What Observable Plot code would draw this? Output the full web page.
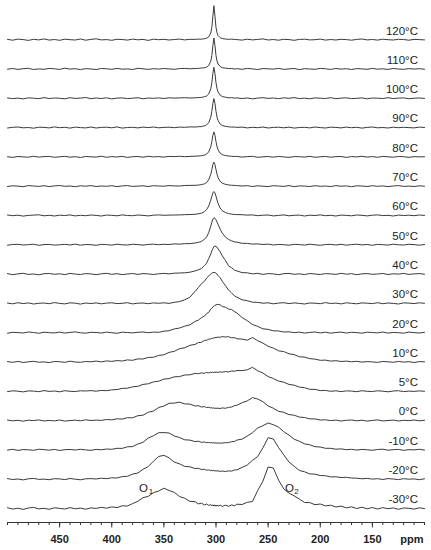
<!DOCTYPE html>
<html><head><meta charset="utf-8">
<script src="https://cdn.jsdelivr.net/npm/d3@7"></script>
<script src="https://cdn.jsdelivr.net/npm/@observablehq/plot@0.6"></script>
<style>body{margin:0;background:#fff}</style>
</head><body><div id="chart"></div>
<script>
// chemical shift grid (ppm)
const ppm = [
  500,495,490,485,480,475,470,465,460,455,450,445,440,435,430,425,420,415,410,405,400,395,390,385,380,375,370,365,360,355,350,345,340,335,330,325,320,
  317,314,311,309,307,305,304,303,302,301,300,299,298,296,294,291,288,285,282,
  280,275,270,265,260,255,250,245,240,235,230,225,220,215,210,205,200,195,190,185,180,175,170,165,160,155,150,145,140,135,130,125,120,115,110,105,100
];
const temperatures = ["120°C","110°C","100°C","90°C","80°C","70°C","60°C","50°C","40°C","30°C","20°C","10°C","5°C","0°C","-10°C","-20°C","-30°C"];

const s120 = [0.3,-0.5,0.6,0.1,-0.7,0.4,-0.2,0.8,-0.4,0.2,-0.6,0.5,0.0,-0.3,0.7,-0.5,0.3,0.9,-0.2,0.1,-0.6,0.4,0.2,-0.4,0.6,-0.1,0.3,-0.7,0.5,0.0,0.4,-0.3,0.2,0.6,-0.2,0.4,0.3,
  0.6,0.5,1.0,1.5,2.8,6.8,12.2,23.5,34,23.5,12.2,6.8,4.2,2.1,1.1,0.7,0.3,0.6,0.2,
  0.1,-0.4,0.5,-0.2,0.3,0.8,-0.3,0.2,-0.5,0.4,0.1,-0.6,0.3,0.5,-0.2,0.0,0.6,-0.4,0.2,-0.3,0.4,0.1,-0.5,0.3,0.7,-0.2,0.2,-0.4,0.5,0.0,-0.3,0.4,0.2,-0.5,0.3,0.1,-0.2];
const s110 = [-0.2,0.5,-0.4,0.3,0.7,-0.5,0.1,-0.3,0.6,0.2,-0.4,0.8,-0.1,0.3,-0.6,0.4,0.0,-0.5,0.5,0.2,-0.3,0.6,-0.2,0.1,-0.5,0.7,0.2,-0.4,0.3,-0.1,0.5,0.1,-0.3,0.4,0.6,0.2,0.5,
  0.6,1.0,1.2,1.9,3.4,7.9,13.4,23.4,31,23.4,13.4,7.9,5.0,2.5,1.3,0.9,0.4,0.5,0.0,
  0.3,-0.3,0.6,0.1,-0.5,0.4,0.2,-0.2,0.7,-0.4,0.1,0.5,-0.6,0.3,0.0,-0.3,0.6,0.2,-0.4,0.5,-0.1,0.3,-0.5,0.4,0.1,-0.3,0.6,-0.2,0.2,-0.4,0.5,0.0,-0.3,0.4,-0.1,0.3,-0.2];
const s100 = [0.4,-0.3,0.2,-0.6,0.5,0.1,-0.4,0.7,-0.2,0.3,0.0,-0.5,0.6,-0.1,0.2,0.8,-0.4,0.3,-0.2,0.5,-0.6,0.2,0.4,-0.3,0.1,0.6,-0.5,0.3,0.0,0.4,-0.2,0.5,0.2,0.4,0.6,0.3,0.5,
  0.7,0.9,1.6,2.3,4.3,9.5,15.5,24.8,31,24.8,15.5,9.5,6.2,3.2,1.8,1.1,0.5,0.6,0.2,
  0.4,-0.2,0.3,-0.5,0.2,0.6,-0.1,0.3,-0.4,0.5,0.0,0.7,-0.3,0.2,-0.5,0.4,0.1,-0.2,0.6,-0.4,0.2,0.5,-0.3,0.0,0.4,-0.5,0.3,0.1,-0.2,0.6,-0.3,0.2,0.4,-0.4,0.1,0.3,-0.1];
const s90 = [-0.4,0.3,0.6,-0.2,0.1,-0.6,0.4,0.2,-0.3,0.7,-0.1,0.3,-0.5,0.5,0.0,-0.3,0.6,-0.4,0.2,0.4,-0.2,0.7,-0.5,0.1,0.3,-0.3,0.5,0.0,0.6,-0.2,0.2,0.4,-0.1,0.5,0.3,0.7,0.6,
  0.9,1.0,1.8,2.7,4.9,10.4,16.2,24.2,29,24.2,16.2,10.4,7.0,3.6,2.1,1.3,0.8,0.5,0.5,
  0.2,0.5,-0.3,0.3,-0.1,0.6,-0.4,0.2,0.4,-0.2,0.5,-0.5,0.1,0.3,-0.3,0.6,0.0,-0.4,0.4,0.2,-0.3,0.5,-0.1,0.3,-0.5,0.2,0.6,-0.2,0.1,-0.4,0.4,-0.1,0.3,0.0,-0.3,0.5,0.1];
const s80 = [0.2,-0.5,0.4,0.0,-0.3,0.6,-0.2,0.3,0.5,-0.4,0.1,0.6,-0.3,0.2,-0.6,0.4,0.1,-0.2,0.7,-0.4,0.3,-0.1,0.5,-0.5,0.2,0.4,-0.3,0.6,0.0,0.3,-0.2,0.5,0.3,0.6,0.2,0.5,0.7,
  0.9,1.2,1.9,2.8,5.0,10.2,15.2,21.6,25,21.6,15.2,10.2,7.0,3.8,2.3,1.4,0.9,0.6,0.4,
  0.5,-0.2,0.3,0.6,-0.4,0.1,0.4,-0.3,0.5,0.0,-0.5,0.3,0.2,-0.2,0.6,-0.4,0.1,0.5,-0.3,0.2,0.4,-0.5,0.3,0.0,0.6,-0.2,0.3,-0.4,0.5,0.1,-0.3,0.4,0.2,-0.5,0.3,0.0,0.2];
const s70 = [-0.3,0.4,0.1,-0.5,0.6,0.2,-0.2,0.5,-0.4,0.3,0.7,-0.1,0.2,-0.5,0.4,0.0,0.6,-0.3,0.2,-0.1,0.5,-0.4,0.3,0.6,-0.2,0.1,0.4,-0.3,0.5,0.2,0.0,0.6,0.3,0.2,0.7,0.8,0.9,
  1.1,1.6,2.4,3.7,6.4,12,16.6,21.6,24,21.6,16.6,12,8.6,4.8,3.0,1.9,1.3,0.9,0.8,
  0.6,0.2,0.5,-0.3,0.4,0.0,-0.4,0.5,0.2,-0.2,0.6,-0.5,0.3,0.1,-0.3,0.5,-0.1,0.2,-0.4,0.6,0.0,0.3,-0.5,0.4,0.2,-0.3,0.5,-0.1,0.3,-0.4,0.2,0.6,-0.2,0.1,-0.3,0.4,0.0];
const s60 = [0.5,-0.2,0.3,-0.6,0.1,0.4,0.7,-0.3,0.2,-0.5,0.3,0.0,0.6,-0.4,0.2,-0.2,0.5,0.1,-0.5,0.4,0.2,-0.3,0.6,0.0,-0.2,0.5,0.1,-0.4,0.3,0.6,0.2,0.4,0.5,0.6,0.8,1.0,1.2,
  1.7,2.3,3.9,5.9,9.4,15.4,19.2,22.6,24,22.6,19.2,15.4,12,7.4,4.8,3.0,1.9,1.4,1.0,
  0.9,0.8,0.4,0.6,-0.2,0.3,0.5,-0.4,0.1,0.6,-0.3,0.2,0.4,-0.5,0.3,0.0,0.6,-0.2,0.2,-0.5,0.4,0.1,-0.3,0.5,0.2,-0.4,0.3,0.6,-0.1,0.2,-0.5,0.4,0.0,0.3,-0.2,0.5,0.1];
const s50 = [-0.4,0.3,0.5,-0.2,0.1,0.6,-0.5,0.2,0.4,-0.3,0.0,0.5,-0.2,0.7,-0.4,0.3,0.1,-0.5,0.4,0.2,-0.3,0.6,0.0,-0.2,0.5,0.2,-0.3,0.4,0.6,0.1,0.5,0.3,0.9,0.7,1.1,1.2,1.8,
  2.4,3.3,5.6,7.9,12.1,18.7,22.5,25.7,27,26.5,25,22.8,20.3,15.6,11.7,7.8,5.4,3.9,2.9,
  2.6,1.5,1.4,0.7,0.9,0.3,0.7,-0.2,0.4,0.1,-0.4,0.5,0.2,-0.3,0.6,0.0,-0.5,0.3,0.4,-0.2,0.5,-0.4,0.2,0.6,-0.1,0.3,-0.5,0.4,0.1,-0.3,0.6,0.0,-0.2,0.5,0.2,-0.4,0.3];
const s40 = [0.5,-0.6,0.2,0.8,-0.3,0.1,-0.7,0.4,0.6,-0.2,0.3,-0.5,0.7,0.0,-0.4,0.5,0.2,-0.6,0.3,0.8,-0.2,0.4,-0.5,0.1,0.6,-0.3,0.5,0.2,-0.4,0.3,0.7,0.2,0.9,1.1,1.3,1.9,3.2,
  4.3,5.4,8.6,11.0,15.5,20.1,23.3,25.4,27.6,28,27.6,26.9,25.3,22.3,18.2,13.8,8.3,6.3,3.8,
  3.2,1.5,1.3,0.2,0.8,-0.3,0.5,0.2,-0.6,0.4,0.7,-0.2,0.3,-0.5,0.6,0.1,-0.4,0.5,0.2,-0.3,0.8,-0.1,0.4,-0.6,0.3,0.5,-0.2,0.1,0.6,-0.4,0.3,0.0,0.7,-0.3,0.2,0.5,-0.1];
const s30 = [0.3,-0.4,0.7,-0.2,0.5,-0.6,0.1,0.4,-0.3,0.8,0.0,-0.5,0.6,0.2,-0.7,0.4,-0.1,0.5,-0.4,0.3,0.6,-0.2,0.1,0.7,-0.5,0.2,0.4,-0.3,0.5,0.1,0.6,0.0,1.1,1.8,3.6,6.2,12.1,
  15.8,19.6,22.2,25.3,27.3,29.6,30.1,31,30.8,30.9,30,29.4,27.9,25.7,22.1,17.9,13.4,10.5,7.3,
  6.2,3.6,2.7,1.2,1.0,0.2,0.6,-0.4,0.3,0.7,-0.2,0.5,0.0,-0.6,0.4,0.2,-0.3,0.8,-0.1,0.3,-0.5,0.6,0.1,-0.4,0.5,0.2,-0.2,0.7,-0.3,0.4,0.0,-0.6,0.5,0.3,-0.2,0.6,0.1];
const s20 = [-0.5,0.4,0.1,-0.3,0.7,0.2,-0.6,0.5,0.0,-0.2,0.6,-0.4,0.3,0.8,-0.1,-0.5,0.4,0.2,-0.3,0.6,0.0,-0.6,0.5,0.2,-0.2,0.4,0.7,0.0,0.6,0.4,1.5,2.0,3.8,4.7,6.5,7.9,11.3,
  12.5,15.0,16.7,19.2,20.3,23.6,24.3,25.8,26.3,27.5,27.6,28.4,28.2,27.9,26.2,25.5,23.7,23.1,20.9,
  19.8,15.2,12.0,8.2,6.3,3.9,3.3,1.9,1.7,0.7,0.9,0.0,0.6,-0.4,0.3,0.7,-0.2,0.5,-0.5,0.2,0.6,-0.3,0.4,0.1,-0.5,0.5,0.2,-0.2,0.7,-0.4,0.3,0.0,-0.5,0.6,0.1,-0.3,0.4];
const s10 = [0.4,-0.3,0.6,-0.5,0.2,0.7,-0.2,0.1,-0.6,0.5,0.3,-0.4,0.8,0.0,-0.3,0.5,0.2,0.9,0.1,1.1,0.6,1.4,1.0,2.1,1.7,3.1,3.0,4.6,4.7,6.6,7.2,9.6,10.7,13.3,14.2,16.7,17.6,
  19.4,19.7,21.6,21.7,22.9,22.9,23.8,23.6,24.3,24.0,24.8,24.4,25.0,24.7,25.4,25.0,25.3,24.2,24.3,
  23.2,22.9,21.8,24.5,21.3,18.9,15.7,13.9,11.2,10.4,8.2,7.4,5.2,4.9,3.3,2.9,1.7,1.9,0.9,1.3,0.5,0.9,0.2,0.7,-0.1,0.4,0.1,-0.4,0.5,0.2,-0.3,0.6,-0.1,0.3,-0.5,0.4,0.2];
const s5 = [-0.3,0.5,0.1,-0.6,0.4,0.2,-0.4,0.7,-0.1,0.3,-0.5,0.6,0.0,-0.2,0.5,0.3,0.7,0.1,0.9,0.6,1.5,1.7,2.9,3.1,4.5,5.0,6.9,7.5,9.4,10.1,12.2,12.7,14.5,14.7,16.3,16.5,17.9,
  17.6,18.4,18.0,18.9,18.4,19.1,18.7,19.2,18.8,19.3,18.9,19.3,18.9,19.5,19.1,19.7,19.4,20.3,20.1,
  20.8,20.7,21.5,24.0,20.5,18.3,14.7,12.8,10.2,9.1,6.9,6.1,4.2,3.6,2.0,1.9,0.7,0.9,0.0,0.5,-0.3,0.4,0.2,-0.4,0.6,0.0,-0.2,0.5,0.1,-0.5,0.3,0.6,-0.3,0.2,-0.1,0.4,0.0];
const s0 = [0.5,-0.2,0.3,-0.6,0.4,0.0,0.7,-0.4,0.2,-0.3,0.6,-0.5,0.1,0.4,-0.2,0.8,0.1,0.5,0.2,1.1,0.7,1.8,1.5,2.9,2.8,4.9,5.4,8.3,9.6,13.1,14.6,17.3,17.5,18.4,16.7,16.5,14.6,
  14.9,13.6,14.0,13.0,13.4,12.6,12.9,12.4,12.7,12.2,12.6,12.1,12.5,12.0,12.7,12.3,13.2,13.6,15.1,
  15.3,17.9,19.7,23.0,21.6,18.9,14.6,12.4,9.3,8.3,6.0,5.4,3.5,3.1,1.7,1.7,0.6,0.8,0.0,0.5,-0.4,0.3,0.6,-0.2,0.4,-0.5,0.2,0.7,-0.3,0.1,0.5,-0.4,0.3,0.0,0.6,-0.2,0.3];
const sm10 = [-0.2,0.6,-0.5,0.3,0.1,-0.4,0.7,0.2,-0.3,0.5,-0.6,0.2,0.4,-0.1,0.6,0.0,-0.4,0.5,0.1,0.9,0.6,1.6,1.5,3.1,3.3,5.9,7.6,11.9,14.1,17.2,17.3,16.9,13.9,12.4,10.1,9.8,8.3,
  8.7,7.6,7.9,7.2,7.5,7.0,7.4,6.9,7.2,6.8,7.1,6.6,7.0,6.7,6.9,7.2,7.3,8.2,8.5,
  9.8,10.8,13.9,17.2,21.9,24.2,26.9,25.2,22.8,18.2,14.8,10.7,8.6,6.0,5.1,3.2,2.9,1.6,1.6,0.7,1.0,0.2,0.6,-0.2,0.5,0.1,-0.4,0.4,0.7,-0.3,0.2,0.5,-0.5,0.3,0.0,0.6,-0.2];
const sm20 = [0.6,-0.3,0.2,-0.7,0.4,0.8,-0.2,0.1,-0.5,0.5,0.3,-0.4,0.7,0.0,-0.6,0.4,0.6,0.2,1.0,0.5,1.4,1.2,2.6,2.9,5.1,6.2,9.9,12.6,18.0,22.7,23.9,21.3,17.1,15.4,12.8,12.4,10.6,
  10.9,9.7,9.9,9.0,9.4,8.5,9.0,8.4,8.8,8.1,8.6,8.0,8.4,7.8,8.2,7.7,8.3,8.1,9.3,
  9.3,11.8,14.2,18.9,22.7,31.3,41.5,40.2,31.7,24.4,17.2,12.9,8.7,7.4,5.3,5.0,3.7,3.5,2.3,2.4,1.7,1.9,1.2,1.0,0.4,0.8,0.1,0.5,-0.3,0.6,0.2,-0.4,0.5,0.0,0.3,-0.5,0.4];
const sm30 = [0.8,-0.6,0.3,-0.9,0.5,1.1,-0.4,0.2,-0.8,0.7,0.1,-0.5,0.9,-0.3,0.4,-0.7,0.6,0.1,1.2,0.3,1.6,0.9,2.7,2.5,4.9,7.2,10.8,12.1,15.9,17.4,20.3,18.0,16.2,11.9,10.3,7.1,6.8,
  4.6,5.3,3.6,4.5,3.1,3.9,2.6,3.8,2.4,3.6,2.2,3.5,2.3,3.4,2.1,3.3,2.2,3.6,2.7,
  4.3,4.0,6.2,7.0,18.0,27.3,41.5,40.5,28.4,19.6,15.4,12.6,9.5,6.0,5.9,3.8,4.5,2.6,3.3,1.5,2.4,0.6,1.7,0.0,1.3,-0.3,1.0,-0.5,0.9,-0.2,0.6,-0.8,0.5,0.2,-0.6,0.7,-0.1];

const spectra = [s120,s110,s100,s90,s80,s70,s60,s50,s40,s30,s20,s10,s5,s0,sm10,sm20,sm30];

// axis ticks
const majorTicks = [450,400,350,300,250,200,150];
const minorTicks = [500,490,480,470,460,450,440,430,420,410,400,390,380,370,360,350,340,330,320,310,300,290,280,270,260,250,240,230,220,210,200,190,180,170,160,150,140,130,120,110,100];
const axisUnit = "ppm";

// peak annotations (on the -30°C trace)
const peakNames = ["O","O"];
const peakSubs = ["1","2"];
const peakPpm = [369.5, 229.5];
const peakSubPpm = [362.5, 222.8];

const SPACING = 29.3;
const n = spectra.length;
const offset = i => (n - 1 - i) * SPACING;

const rows = [];
spectra.forEach((vals, i) => {
  if (vals.length !== ppm.length) throw new Error("length mismatch " + temperatures[i] + " " + vals.length);
  vals.forEach((v, j) => rows.push({ppm: ppm[j], y: offset(i) + v, t: temperatures[i]}));
});
const labels = temperatures.map((t, i) => ({t, x: 100, y: offset(i)}));
const annO = peakNames.map((p, k) => ({text: p, x: peakPpm[k], y: 20.5}));
const annS = peakSubs.map((p, k) => ({text: p, x: peakSubPpm[k], y: 17}));

const chart = Plot.plot({
  width: 431, height: 550,
  marginTop: 0, marginBottom: 28, marginLeft: 7, marginRight: 7,
  x: {domain: [500, 100]},
  y: {domain: [-14, 508], axis: null},
  style: {fontFamily: "'Liberation Sans', Arial, Helvetica, sans-serif", fontSize: "11px", background: "#fff", color: "#222"},
  marks: [
    Plot.line(rows, {x: "ppm", y: "y", z: "t", stroke: "#3a3a3a", strokeWidth: 1}),
    Plot.text(labels, {x: "x", y: "y", text: "t", textAnchor: "end", dx: -6.5, dy: -8.8, fontSize: 11.5, fill: "#222"}),
    Plot.text(annO, {x: "x", y: "y", text: "text", fontSize: 11.5, fill: "#222"}),
    Plot.text(annS, {x: "x", y: "y", text: "text", fontSize: 8, fill: "#222"}),
    Plot.ruleY([-14], {stroke: "#333", strokeWidth: 1}),
    Plot.axisX({ticks: minorTicks, tickSize: 3, tickFormat: () => "", label: null, stroke: "#333"}),
    Plot.axisX({ticks: majorTicks, tickSize: 5.5, tickPadding: 7.5, label: null, stroke: "#333", fontWeight: "bold", fontSize: 11, fill: "#222"}),
    Plot.text([axisUnit], {x: () => 100, y: () => -34.5, text: d => d, textAnchor: "end", lineAnchor: "bottom", dx: -1, fontWeight: "bold", fontSize: 11, fill: "#222"})
  ]
});
document.getElementById("chart").appendChild(chart);
</script>
</body></html>
